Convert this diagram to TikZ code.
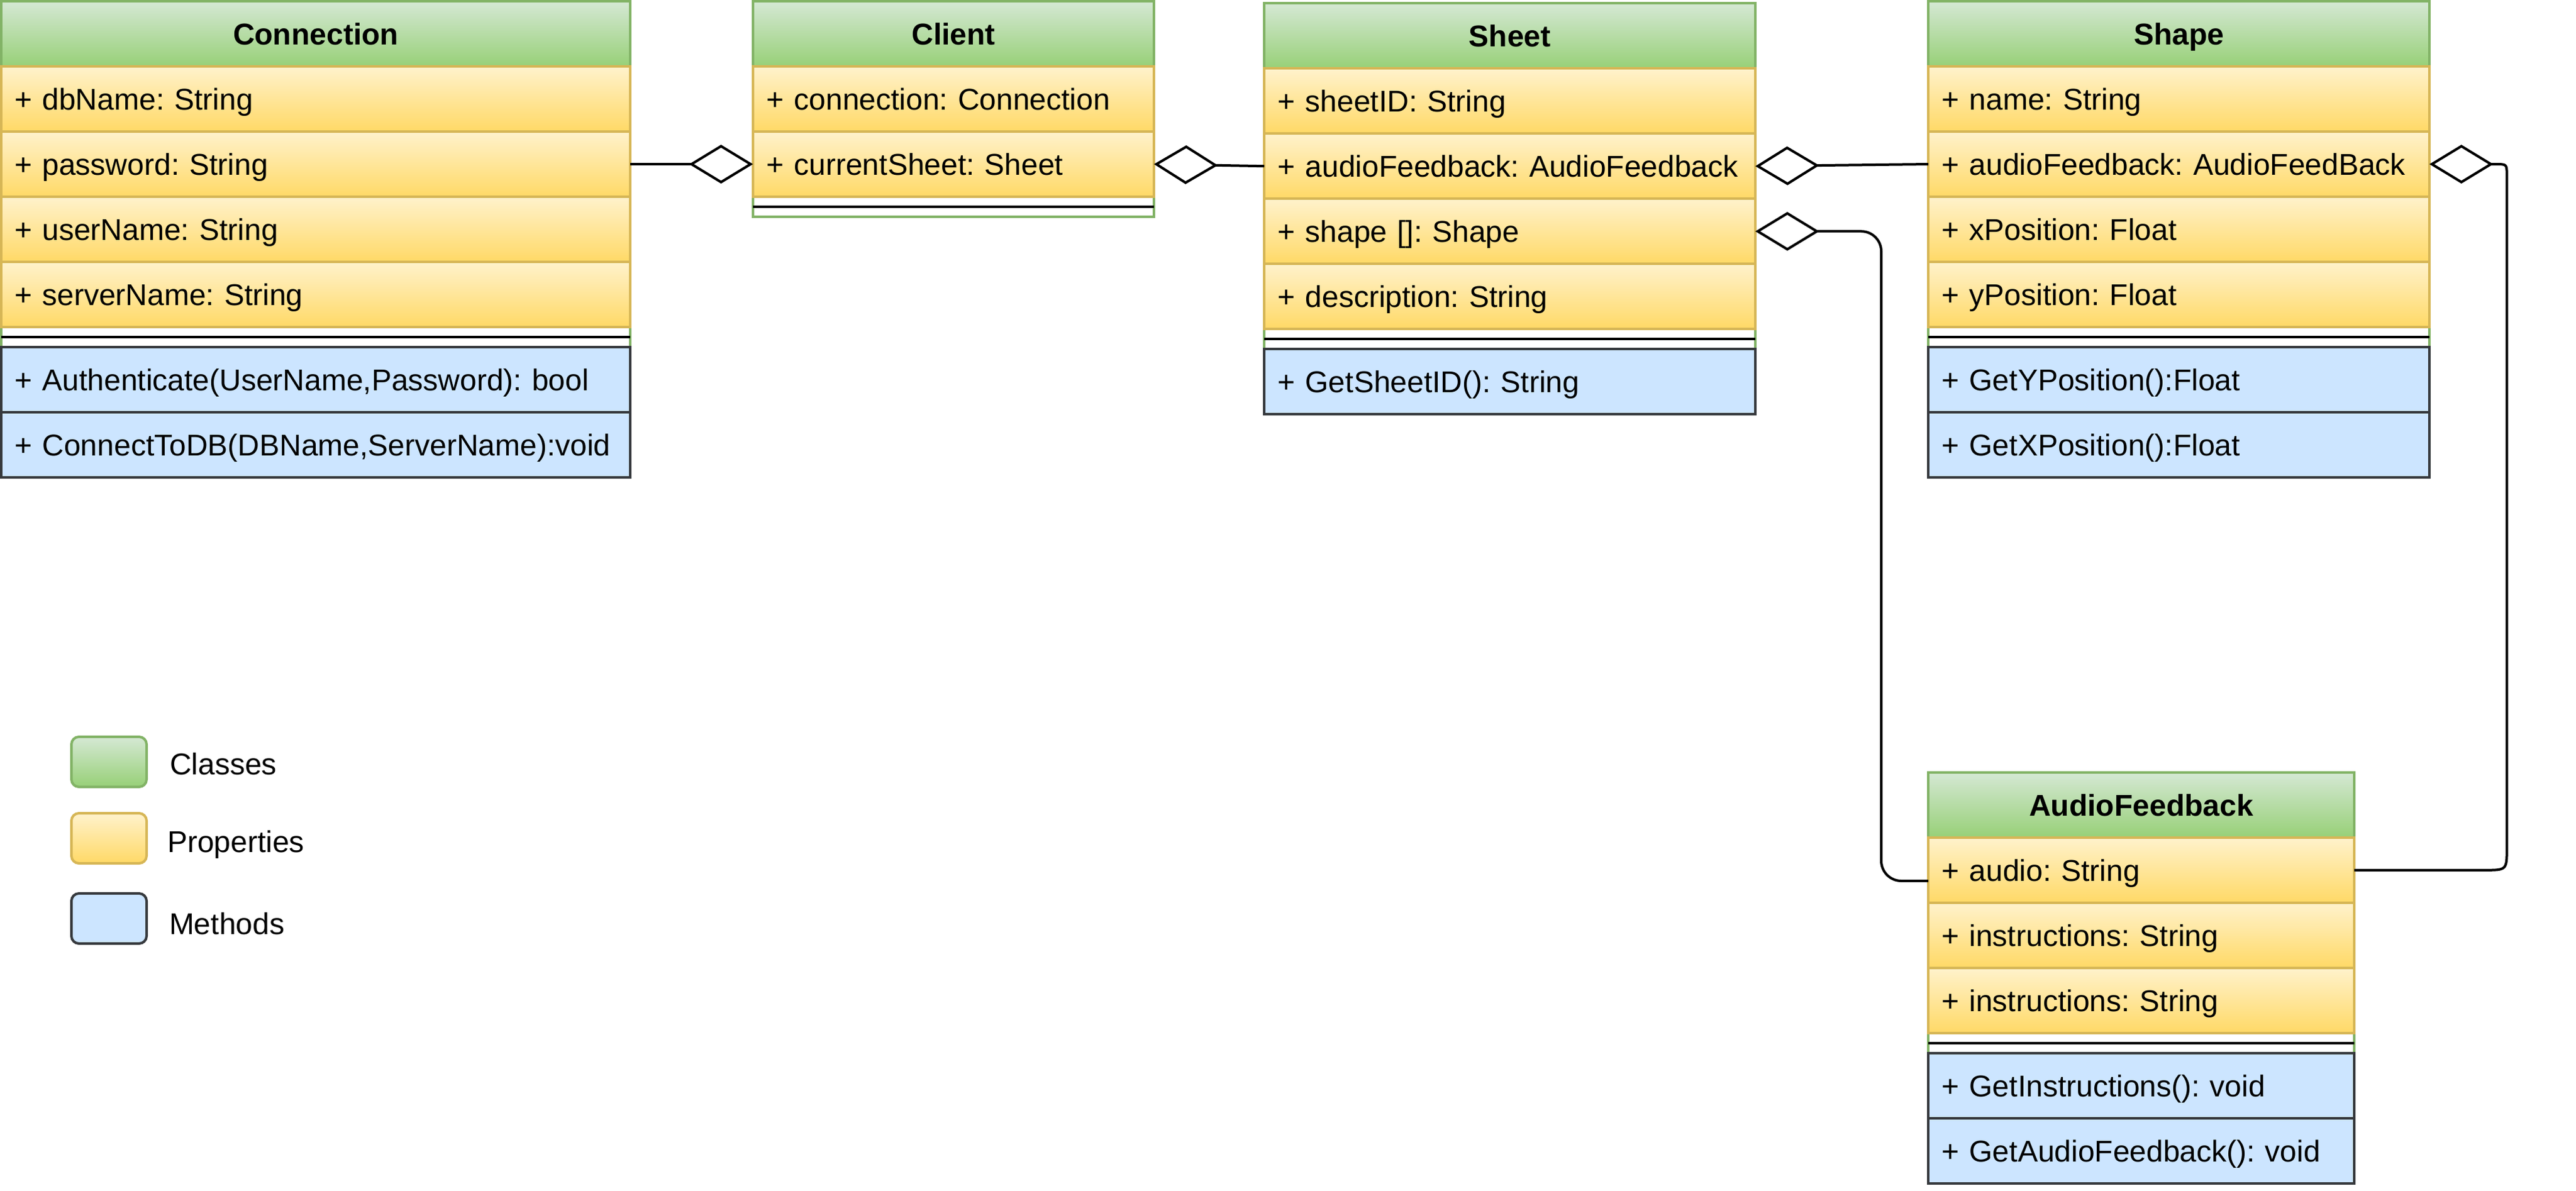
\documentclass[tikz,border=0pt]{standalone}
\usepackage{fontspec}
\setmainfont{Liberation Sans}
\usetikzlibrary{arrows.meta,calc}
\frenchspacing
\definecolor{gstroke}{HTML}{82B366}
\definecolor{gtop}{HTML}{D5E8D4}
\definecolor{gbot}{HTML}{97D077}
\definecolor{ystroke}{HTML}{D6B656}
\definecolor{ytop}{HTML}{FFF2CC}
\definecolor{ybot}{HTML}{FFD966}
\definecolor{bstroke}{HTML}{36393D}
\definecolor{bfill}{HTML}{CCE5FF}
\newcommand\rt[1]{\mbox{#1}}
\begin{document}
\begin{tikzpicture}[x=1pt,y=-1pt,
  font=\fontsize{12}{14}\selectfont\frenchspacing,
  box/.style={anchor=north west, inner xsep=5.4pt, inner ysep=0pt, outer sep=0pt,
    line width=1pt, text height=8.6pt, text depth=0pt, minimum height=26pt, align=left},
  hdr/.style={box, draw=gstroke, top color=gtop, bottom color=gbot,
    font=\fontsize{12}{14}\selectfont\bfseries, align=center},
  prop/.style={box, draw=ystroke, top color=ytop, bottom color=ybot},
  meth/.style={box, draw=bstroke, fill=bfill},
  frame/.style={anchor=north west, inner sep=0pt, outer sep=0pt, line width=1pt,
    draw=gstroke, fill=white},
  sepl/.style={draw=black, line width=1pt},
  agg/.style={draw=black, line width=1pt, -{Diamond[open,length=25.5pt,width=15.5pt]}},
  leg/.style={minimum width=30pt, minimum height=20pt, inner sep=0pt, line width=1pt,
    rounded corners=3pt},
  legtext/.style={anchor=base west, inner sep=0pt},
  wConn/.style={text width=240.2pt, minimum width=251pt},
  wCli/.style={text width=149.2pt, minimum width=160pt},
  wSheet/.style={text width=185.2pt, minimum width=196pt},
  wShape/.style={text width=189.2pt, minimum width=200pt},
  wAF/.style={text width=159.2pt, minimum width=170pt}
]
\useasboundingbox (0,0) rectangle (1028,475);

% ---------- Connection ----------
\node[frame, minimum width=251pt, minimum height=138pt] (connF) at (0.5,0.5) {};
\node[hdr, wConn] (connH) at (connF.north west) {Connection};
\node[prop, wConn] (connDb) at (connH.south west) {\rt{+ dbName: String}};
\node[prop, wConn] (connPwd) at (connDb.south west) {\rt{+ password: String}};
\node[prop, wConn] (connUser) at (connPwd.south west) {\rt{+ userName: String}};
\node[prop, wConn] (connSrv) at (connUser.south west) {\rt{+ serverName: String}};
\draw[sepl] ($(connF.south west)+(0,-4)$) -- ($(connF.south east)+(0,-4)$);
\node[meth, wConn] (connM1) at (connF.south west) {\rt{+ Authenticate(UserName,Password): bool}};
\node[meth, wConn] (connM2) at (connM1.south west) {\rt{+ ConnectToDB(DBName,ServerName):void}};

% ---------- Client ----------
\node[frame, minimum width=160pt, minimum height=86pt] (cliF) at (300.5,0.5) {};
\node[hdr, wCli] (cliH) at (cliF.north west) {Client};
\node[prop, wCli] (cliConn) at (cliH.south west) {\rt{+ connection: Connection}};
\node[prop, wCli] (cliCS) at (cliConn.south west) {\rt{+ currentSheet: Sheet}};
\draw[sepl] ($(cliF.south west)+(0,-4)$) -- ($(cliF.south east)+(0,-4)$);

% ---------- Sheet ----------
\node[frame, minimum width=196pt, minimum height=138pt] (shF) at (504.5,1.3) {};
\node[hdr, wSheet] (shH) at (shF.north west) {Sheet};
\node[prop, wSheet] (shID) at (shH.south west) {\rt{+ sheetID: String}};
\node[prop, wSheet] (shAF) at (shID.south west) {\rt{+ audioFeedback: AudioFeedback}};
\node[prop, wSheet] (shShape) at (shAF.south west) {\rt{+ shape []: Shape}};
\node[prop, wSheet] (shDesc) at (shShape.south west) {\rt{+ description: String}};
\draw[sepl] ($(shF.south west)+(0,-4)$) -- ($(shF.south east)+(0,-4)$);
\node[meth, wSheet] (shM1) at (shF.south west) {\rt{+ GetSheetID(): String}};

% ---------- Shape ----------
\node[frame, minimum width=200pt, minimum height=138pt] (spF) at (769.5,0.5) {};
\node[hdr, wShape] (spH) at (spF.north west) {Shape};
\node[prop, wShape] (spName) at (spH.south west) {\rt{+ name: String}};
\node[prop, wShape] (spAF) at (spName.south west) {\rt{+ audioFeedback: AudioFeedBack}};
\node[prop, wShape] (spX) at (spAF.south west) {\rt{+ xPosition: Float}};
\node[prop, wShape] (spY) at (spX.south west) {\rt{+ yPosition: Float}};
\draw[sepl] ($(spF.south west)+(0,-4)$) -- ($(spF.south east)+(0,-4)$);
\node[meth, wShape] (spM1) at (spF.south west) {\rt{+ GetYPosition():Float}};
\node[meth, wShape] (spM2) at (spM1.south west) {\rt{+ GetXPosition():Float}};

% ---------- AudioFeedback ----------
\node[frame, minimum width=170pt, minimum height=112pt] (afF) at (769.5,308.2) {};
\node[hdr, wAF] (afH) at (afF.north west) {AudioFeedback};
\node[prop, wAF] (afAudio) at (afH.south west) {\rt{+ audio: String}};
\node[prop, wAF] (afI1) at (afAudio.south west) {\rt{+ instructions: String}};
\node[prop, wAF] (afI2) at (afI1.south west) {\rt{+ instructions: String}};
\draw[sepl] ($(afF.south west)+(0,-4)$) -- ($(afF.south east)+(0,-4)$);
\node[meth, wAF] (afM1) at (afF.south west) {\rt{+ GetInstructions(): void}};
\node[meth, wAF] (afM2) at (afM1.south west) {\rt{+ GetAudioFeedback(): void}};

% ---------- Connectors ----------
\draw[agg] (connPwd.east) -- (cliCS.west);
\draw[agg] (shAF.west) -- (cliCS.east);
\draw[agg] (spAF.west) -- (shAF.east);

\coordinate (busL) at (750.75,200);
\coordinate (afIn) at ($(afAudio.west)+(0,4.3)$);
\draw[agg, rounded corners=8pt] (afIn) -- (afIn -| busL) -- (busL |- shShape.east) -- (shShape.east);

\coordinate (busR) at (1000.4,200);
\coordinate (cR1) at (afAudio.east -| busR);
\coordinate (cR2) at (busR |- spAF.east);
\draw[agg] (afAudio.east) -- ($(cR1)+(-9,0)$) .. controls (cR1) .. ($(cR1)+(0,-9)$)
  -- ($(cR2)+(0,4.5)$) .. controls (cR2) .. ($(cR2)+(-4.5,0)$) -- (spAF.east);

% ---------- Legend ----------
\node[leg, draw=gstroke, top color=gtop, bottom color=gbot] (lgC) at (43.5,304) {};
\node[leg, draw=ystroke, top color=ytop, bottom color=ybot] (lgP) at (43.5,334.5) {};
\node[leg, draw=bstroke, fill=bfill] (lgM) at (43.5,366.5) {};
\node[legtext] (lgCt) at (67.6,309) {Classes};
\node[legtext] (lgPt) at (66.6,340) {Properties};
\node[legtext] (lgMt) at (67.3,372.9) {Methods};
\end{tikzpicture}
\end{document}
